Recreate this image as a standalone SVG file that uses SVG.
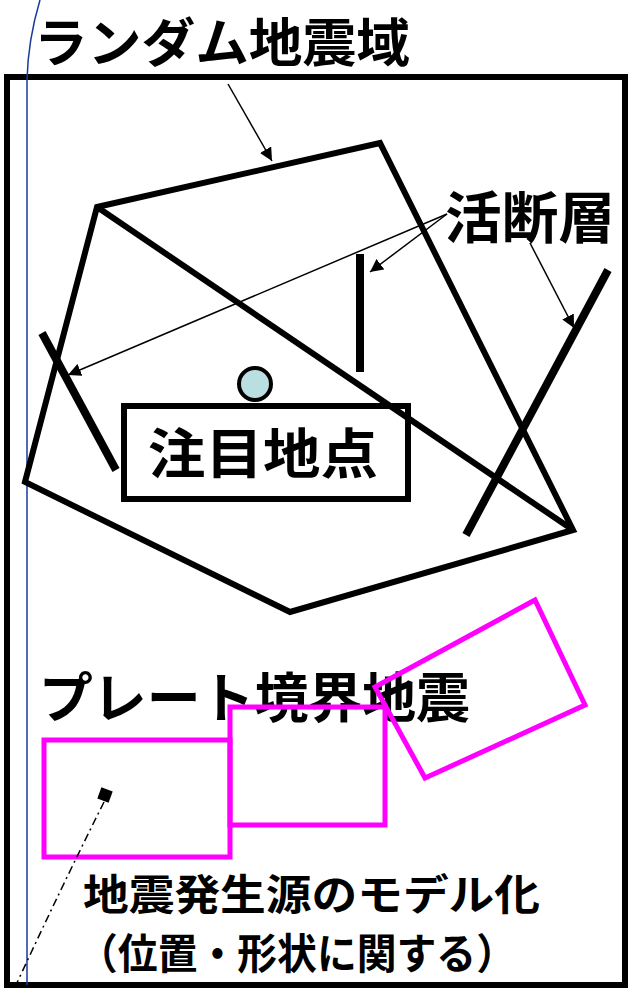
<svg xmlns="http://www.w3.org/2000/svg" width="630" height="990" viewBox="0 0 630 990">
<defs>
<style>
.t{font-family:"Noto Sans CJK JP","Noto Sans",sans-serif;font-weight:bold;fill:#000}
.k{fill:none;stroke:#000;stroke-linejoin:miter;stroke-linecap:butt}
.m{fill:none;stroke:#ff00ff;stroke-width:5}
.a{stroke:#000;stroke-width:1.5;fill:none}
</style>
<marker id="ah" viewBox="0 0 10 10" refX="10" refY="5" markerWidth="13" markerHeight="13" markerUnits="userSpaceOnUse" orient="auto">
<path d="M0,0 L10,5 L0,10 z" fill="#000"/>
</marker>
</defs>
<rect width="630" height="990" fill="#fff"/>
<g id="frame">
<rect x="7" y="77" width="618" height="908" class="k" stroke-width="6"/>
<path d="M40,0 Q28,40 27,80 L27,985" fill="none" stroke="#1a3a9a" stroke-width="1.5"/>
</g>
<g id="title"><text class="t" x="34" y="62" font-size="52" textLength="376" lengthAdjust="spacingAndGlyphs">ランダム地震域</text></g>
<g id="random-zone">
<polygon points="97,207 380,143 573,530 290,612 25,482" class="k" stroke-width="6"/>
<line x1="97" y1="207" x2="573" y2="530" class="k" stroke-width="6"/>
</g>
<g id="faults">
<line x1="360" y1="254" x2="360" y2="372" class="k" stroke-width="8"/>
<line x1="42" y1="333" x2="116" y2="470" class="k" stroke-width="8"/>
<line x1="608" y1="270" x2="466" y2="535" class="k" stroke-width="8"/>
<text class="t" x="445" y="238" font-size="56" textLength="170" lengthAdjust="spacingAndGlyphs">活断層</text>
</g>
<g id="site">
<circle cx="255" cy="384" r="16" fill="#b9dfe0" stroke="#000" stroke-width="4"/>
<rect x="124" y="406" width="284" height="93" class="k" stroke-width="6"/>
<text class="t" x="148" y="474" font-size="54" textLength="230" lengthAdjust="spacingAndGlyphs">注目地点</text>
</g>
<g id="plate">
<text class="t" x="39" y="718" font-size="54" textLength="431" lengthAdjust="spacingAndGlyphs">プレート境界地震</text>
<rect x="44" y="740" width="186" height="117" class="m"/>
<rect x="230" y="707" width="155" height="118" class="m"/>
<polygon points="375,687 535,600 585,705 425,778" class="m"/>
<rect x="99" y="789" width="12" height="12" fill="#000" transform="rotate(20 105 795)"/>
</g>
<g id="caption">
<text class="t" x="83" y="910" font-size="42" textLength="457" lengthAdjust="spacingAndGlyphs">地震発生源のモデル化</text>
<text class="t" x="78" y="969" font-size="42" textLength="438" lengthAdjust="spacingAndGlyphs">（位置・形状に関する）</text>
</g>
<g id="connectors">
<line x1="228" y1="84" x2="272" y2="161" class="a" marker-end="url(#ah)"/>
<line x1="447" y1="214" x2="68" y2="375" class="a" marker-end="url(#ah)"/>
<line x1="447" y1="214" x2="370" y2="272" class="a" marker-end="url(#ah)"/>
<line x1="530" y1="243" x2="574" y2="328" class="a" marker-end="url(#ah)"/>
<path d="M104,802 Q60,890 16,985" fill="none" stroke="#000" stroke-width="1.5" stroke-dasharray="8,4,2,4"/>
</g>
</svg>
